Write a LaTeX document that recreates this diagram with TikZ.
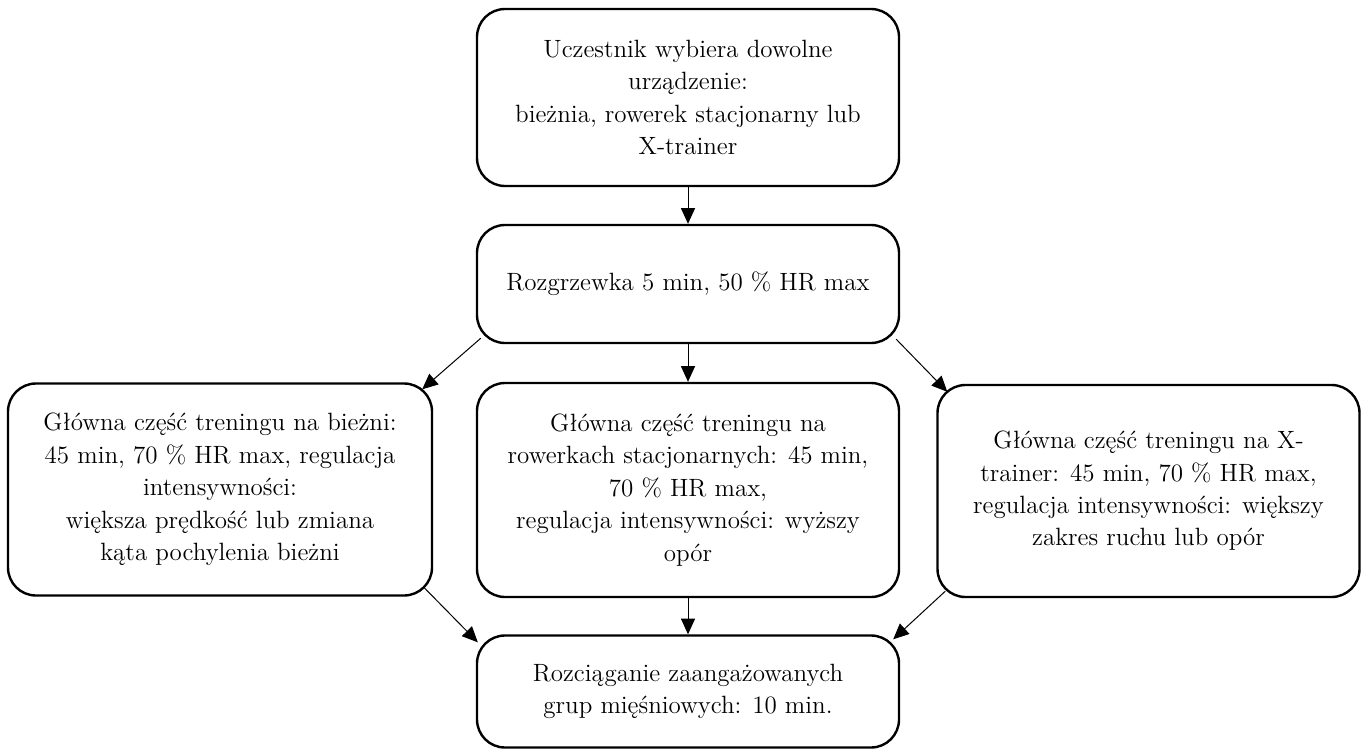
\documentclass[tikz,border=0pt]{standalone}
\usetikzlibrary{calc,arrows.meta}
\begin{document}
\begin{tikzpicture}[x=0.5pt,y=-0.5pt,
  box/.style={draw, line width=1.2pt, rounded corners=14pt, align=center, inner sep=0pt,
    font=\fontsize{12.5}{16.2}\selectfont},
  conn/.style={line width=0.5pt, -{Triangle[length=7.8pt,width=7pt]}}]
\useasboundingbox (0,0) rectangle (1364,749);
\node[box, minimum width=211pt, minimum height=88.5pt] (top) at (688,97.5)
  {Uczestnik wybiera dowolne\\urządzenie:\\bieżnia, rowerek stacjonarny lub\\X-trainer};
\node[box, minimum width=211pt, minimum height=59pt] (warm) at (688,284)
  {Rozgrzewka 5 min, 50 \% HR max};
\node[box, minimum width=212pt, minimum height=106pt] (left) at (220,489.5)
  {Główna część treningu na bieżni:\\45 min, 70 \% HR max, regulacja\\intensywności:\\większa prędkość lub zmiana\\kąta pochylenia bieżni};
\node[box, minimum width=211pt, minimum height=107pt] (mid) at (688,490)
  {Główna część treningu na\\rowerkach stacjonarnych: 45 min,\\70 \% HR max,\\regulacja intensywności: wyższy\\opór};
\node[box, minimum width=211pt, minimum height=106pt] (right) at (1148.5,491)
  {Główna część treningu na X-\\trainer: 45 min, 70 \% HR max,\\regulacja intensywności: większy\\zakres ruchu lub opór};
\node[box, minimum width=211pt, minimum height=56pt] (bottom) at (688,691.5)
  {Rozciąganie zaangażowanych\\grup mięśniowych: 10 min.};
\draw[conn] (top.south) -- (warm.north);
\draw[conn] (warm.south) -- (mid.north);
\draw[conn] (mid.south) -- (bottom.north);
\draw[conn] ($(warm.south west)+(2.5pt,3pt)$) -- ($(left.north east)+(-5.5pt,-3.5pt)$);
\draw[conn] ($(warm.south east)+(-2pt,2.5pt)$) -- ($(right.north west)+(5.5pt,-4pt)$);
\draw[conn] ($(left.south east)+(-4.5pt,4.5pt)$) -- ($(bottom.north west)+(1pt,-4pt)$);
\draw[conn] ($(right.south west)+(4.5pt,3.5pt)$) -- ($(bottom.north east)+(-3.5pt,-2.5pt)$);
\end{tikzpicture}
\end{document}
